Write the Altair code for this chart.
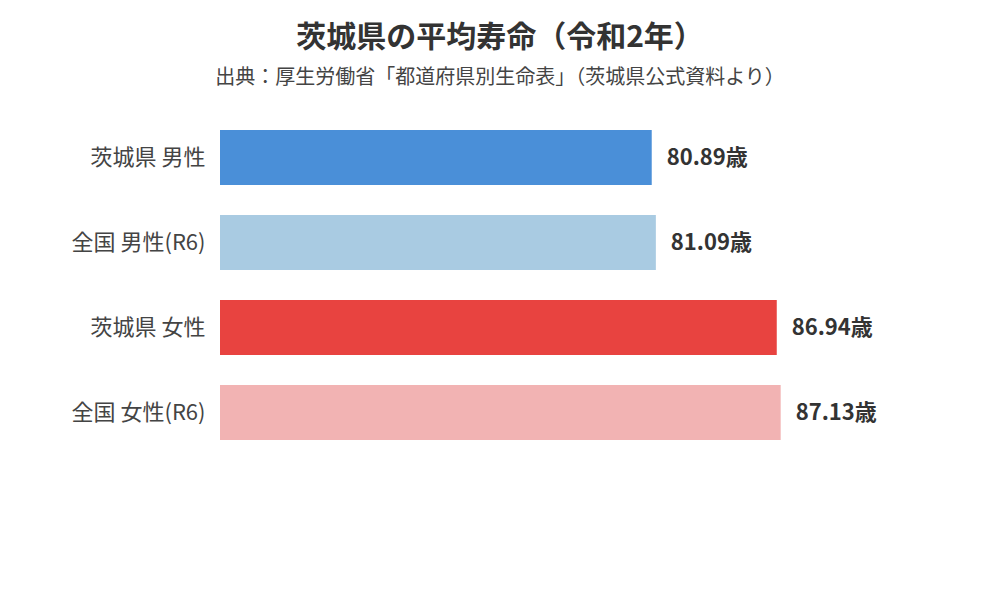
import altair as alt
import pandas as pd

categories = ["茨城県 男性", "全国 男性(R6)", "茨城県 女性", "全国 女性(R6)"]
values = [80.89, 81.09, 86.94, 87.13]
labels = ["80.89歳", "81.09歳", "86.94歳", "87.13歳"]
colors = ["#4a8fd8", "#a9cbe2", "#e84340", "#f2b3b3"]
axis_min = 60
axis_max = 90

df = pd.DataFrame({"cat": categories, "val": values, "label": labels})

FONT = "Noto Sans CJK JP"

y_enc = alt.Y("cat:N", sort=categories, title=None,
              scale=alt.Scale(paddingInner=30/85, paddingOuter=15/85),
              axis=alt.Axis(domain=False, ticks=False, labelFontSize=22,
                            labelColor="#444444", labelFont=FONT, labelPadding=15))
x_enc = alt.X("val:Q", scale=alt.Scale(domain=[axis_min, axis_max], zero=False), axis=None)

bars = alt.Chart(df).mark_bar().encode(
    y=y_enc, x=x_enc, x2=alt.datum(axis_min),
    color=alt.Color("cat:N", scale=alt.Scale(domain=categories, range=colors), legend=None),
)
text = alt.Chart(df).mark_text(align="left", baseline="middle", dx=15, fontSize=22,
                               fontWeight="bold", color="#333333", font=FONT).encode(
    y=alt.Y("cat:N", sort=categories), x="val:Q", text="label:N")

chart = alt.layer(bars, text).properties(
    width=620, height=340,
    padding={"left": 63, "top": 15, "right": 5, "bottom": 5},
    title=alt.TitleParams(text="茨城県の平均寿命（令和2年）",
                          subtitle="出典：厚生労働省「都道府県別生命表」（茨城県公式資料より）",
                          anchor="middle", dx=-30, fontSize=30, font=FONT, color="#333333",
                          subtitleFont=FONT, subtitleFontSize=20, subtitleColor="#444444",
                          subtitlePadding=15, offset=27),
).configure(font=FONT).configure_view(stroke="transparent", strokeWidth=0)

chart.save("out.html", embed_options={"renderer": "svg", "actions": False})
